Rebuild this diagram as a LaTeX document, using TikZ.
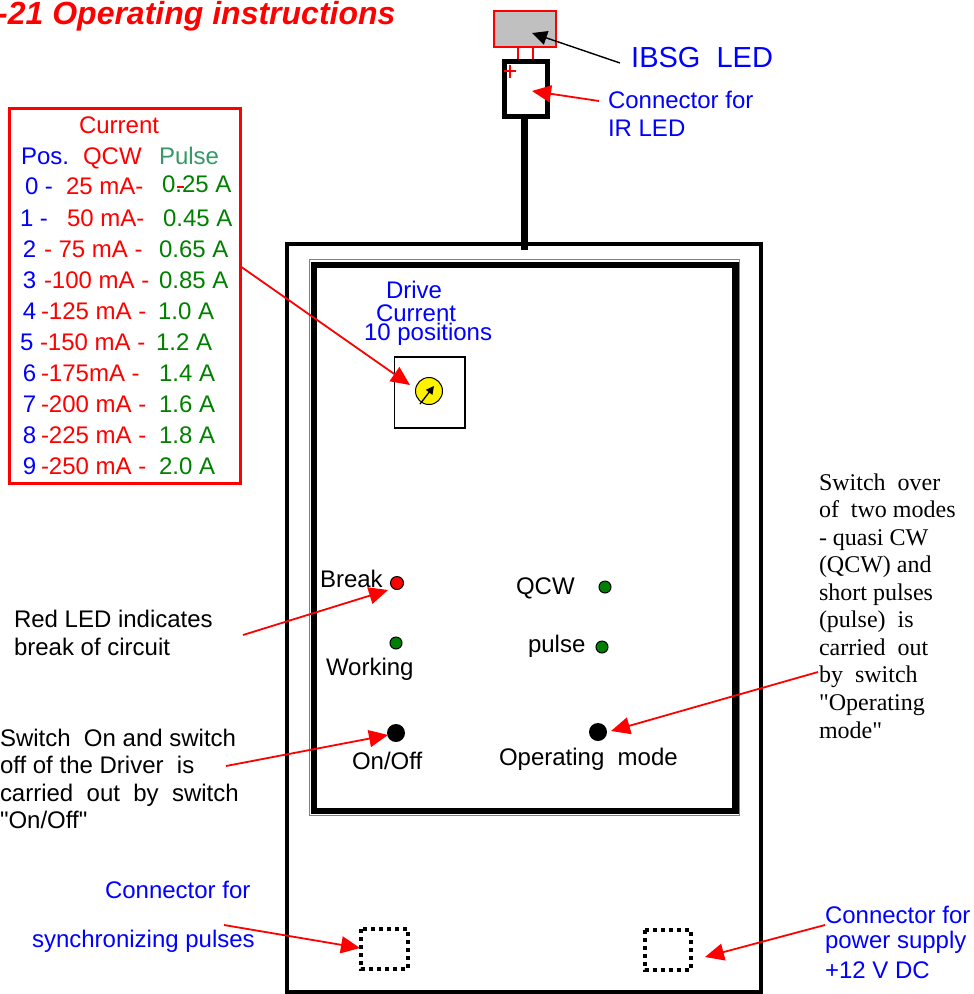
\documentclass[tikz,border=0pt]{standalone}
\usepackage{fontspec}
\setmainfont{Liberation Sans}
\newfontfamily\serifface{Liberation Serif}
\newfontfamily\plainsans{Liberation Sans}
\usetikzlibrary{arrows.meta}
\definecolor{tblue}{RGB}{0,0,255}
\definecolor{tred}{RGB}{255,0,0}
\definecolor{tgreen}{RGB}{0,128,0}
\definecolor{pgreen}{RGB}{51,153,102}
\definecolor{ledgray}{RGB}{192,192,192}
\tikzset{
  x=1pt,y=-1pt,
  lbl/.style={anchor=base west,inner sep=0pt,outer sep=0pt,font=\fontsize{24}{24}\selectfont},
  tb/.style={lbl},
  ser/.style={anchor=base west,inner sep=0pt,outer sep=0pt,font=\serifface\fontsize{24}{24}\selectfont},
  redarrow/.style={draw=tred,line width=1.8pt,-{Triangle[length=19pt,width=17pt,fill=tred]}},
  blackarrow/.style={draw=black,line width=1.4pt,-{Triangle[length=15pt,width=14pt,fill=black]}},
  led/.style={circle,draw=black,line width=1pt,inner sep=0pt,outer sep=0pt},
  dotbox/.style={draw=black,line width=4.5pt,dash pattern=on 4pt off 4pt},
}
\begin{document}
\begin{tikzpicture}
\useasboundingbox (0,0) rectangle (974,994);
% title
\node[anchor=base west,inner sep=0pt,font=\bfseries\itshape\fontsize{32}{32}\selectfont,text=tred] (title) at (-3,24) {-21 Operating instructions};
% body boxes
\draw[black,line width=4pt] (287,244) rectangle (761,992);
\draw[gray,line width=.8pt] (309.5,259.5) rectangle (739,815);
\draw[black,line width=6.5pt] (314,265) rectangle (735.5,811);
% LED and connector
\draw[tred,fill=ledgray,line width=1.2pt] (494,11) rectangle (556,47);
\node[inner sep=0pt,minimum size=0pt] (ledbox) at (525,29) {};
\draw[tred,line width=1.2pt] (518,47) -- (518,60) (533,47) -- (533,63);
\draw[black,line width=5pt] (504,61.5) rectangle (547,116);
\draw[black,line width=7pt] (524,116) -- (524,250);
\draw[tred,line width=1.2pt] (504,71) -- (516,71) (510,65) -- (510,78);
% table
\draw[tred,line width=3pt] (9.5,108.5) rectangle (240,483);
\node[tb,text=tred] (cur) at (79,133) {Current};
\node[tb,text=tblue] (pos) at (21,164) {Pos.};
\node[tb,text=tred] (qcw) at (83,164) {QCW};
\node[tb,text=pgreen] (pls) at (159,164) {Pulse};
\node[tb,text=tblue] (p0) at (25,194) {0 -};
\node[tb,text=tred] (c0) at (66,194) {25 mA-};
\node[tb,text=tgreen] (g0) at (162,192) {0.25 A};
\draw[tred,line width=1.2pt] (177,187) -- (184,187);
\node[tb,text=tblue] (p1) at (20,226) {1 -};
\node[tb,text=tred] (c1) at (67,226) {50 mA-};
\node[tb,text=tgreen] (g1) at (163,226) {0.45 A};
\node[tb,text=tblue] (p2) at (23,257) {2};
\node[tb,text=tred] (c2) at (44,257) {- 75 mA -};
\node[tb,text=tgreen] (g2) at (159,257) {0.65 A};
\node[tb,text=tblue] (p3) at (23,288) {3};
\node[tb,text=tred] (c3) at (44,288) {-100 mA -};
\node[tb,text=tgreen] (g3) at (159,288) {0.85 A};
\node[tb,text=tblue] (p4) at (23,319) {4};
\node[tb,text=tred] (c4) at (41,319) {-125 mA -};
\node[tb,text=tgreen] (g4) at (158,319) {1.0 A};
\node[tb,text=tblue] (p5) at (20,350) {5};
\node[tb,text=tred] (c5) at (40,350) {-150 mA -};
\node[tb,text=tgreen] (g5) at (156,350) {1.2 A};
\node[tb,text=tblue] (p6) at (23,381) {6};
\node[tb,text=tred] (c6) at (41,381) {-175mA -};
\node[tb,text=tgreen] (g6) at (159,381) {1.4 A};
\node[tb,text=tblue] (p7) at (23,412) {7};
\node[tb,text=tred] (c7) at (41,412) {-200 mA -};
\node[tb,text=tgreen] (g7) at (159,412) {1.6 A};
\node[tb,text=tblue] (p8) at (23,443) {8};
\node[tb,text=tred] (c8) at (41,443) {-225 mA -};
\node[tb,text=tgreen] (g8) at (159,443) {1.8 A};
\node[tb,text=tblue] (p9) at (23,474) {9};
\node[tb,text=tred] (c9) at (41,474) {-250 mA -};
\node[tb,text=tgreen] (g9) at (159,474) {2.0 A};
% drive
\node[tb,text=tblue] (dr) at (386,298) {Drive};
\node[tb,text=tblue] (dc) at (376,321) {Current};
\node[tb,text=tblue] (dp) at (364,340) {10 positions};
\draw[black,line width=1.2pt] (394.5,357) rectangle (465,428);
\node[led,fill=yellow,minimum size=27pt] (knob) at (429,391) {};
\coordinate (kt) at (434,386);
\coordinate (ks) at (420,404);
\draw[black,line width=1.3pt,-{Triangle[length=8pt,width=8pt,fill=black]}] (ks) -- (kt);
% labels inside
\node[tb,text=black] (brk) at (320,587) {Break};
\node[led,fill=tred,minimum size=13pt] (ledr) at (397,583) {};
\node[led,fill=tgreen,minimum size=12pt] (ledg) at (396,643) {};
\node[tb,text=black] (wrk) at (326,675) {Working};
\node[tb,text=black] (qq) at (516,594) {QCW};
\node[led,fill=tgreen,minimum size=12pt] (ledq) at (605,587) {};
\node[tb,text=black] (pp) at (528,652) {pulse};
\node[led,fill=tgreen,minimum size=12pt] (ledp) at (602,647) {};
\node[circle,fill=black,minimum size=18pt,inner sep=0pt] (sw1) at (396,733) {};
\node[circle,fill=black,minimum size=18pt,inner sep=0pt] (sw2) at (598,732) {};
\node[tb,text=black] (onoff) at (352,769) {On/Off};
\node[tb,text=black] (opm) at (499,765) {Operating\ \ mode};
\draw[dotbox] (361,929) rectangle (408,969);
\draw[dotbox] (645,930) rectangle (691,970);
% outer labels
\node[anchor=base west,inner sep=0pt,font=\fontsize{29}{29}\selectfont,text=tblue] (ibsg) at (631,67) {IBSG\ \ LED};
\node[lbl,text=tblue] (con1) at (608,108) {Connector for};
\node[lbl,text=tblue] (con2) at (608,136) {IR LED};
\node[tb,text=black] (r1) at (14,627) {Red LED indicates};
\node[tb,text=black] (r2) at (14,655) {break of circuit};
\node[tb,text=black] (s1) at (0,746) {Switch\ \ On and switch};
\node[tb,text=black] (s2) at (0,773) {off of the Driver\ \ is};
\node[tb,text=black] (s3) at (0,801) {carried\ \ out\ \ by\ \ switch};
\node[anchor=base west,inner sep=0pt,outer sep=0pt,font=\plainsans\fontsize{24}{24}\selectfont,text=black] (s4) at (0,828) {"On/Off"};
\node[tb,text=tblue] (syn1) at (105,898) {Connector for};
\node[tb,text=tblue] (syn2) at (32,947) {synchronizing pulses};
\node[tb,text=tblue] (pw1) at (825,923) {Connector for};
\node[tb,text=tblue] (pw2) at (825,948) {power supply};
\node[tb,text=tblue] (pw3) at (825,978) {+12 V DC};
\node[ser] (t1) at (819,490) {Switch\ \ over};
\node[ser] (t2) at (819,517) {of\ \ two modes};
\node[ser] (t3) at (819,545) {- quasi CW};
\node[ser] (t4) at (819,572) {(QCW) and};
\node[ser] (t5) at (819,600) {short pulses};
\node[ser] (t6) at (819,627) {(pulse)\ \ is};
\node[ser] (t7) at (819,655) {carried\ \ out};
\node[ser] (t8) at (819,682) {by\ \ switch};
\node[ser] (t9) at (819,710) {"Operating};
\node[ser] (t10) at (819,738) {mode"};
% arrows
\coordinate (a1s) at (620,63); \coordinate (a1e) at (532,33);
\draw[blackarrow] (a1s) -- (a1e);
\coordinate (a2s) at (599,101); \coordinate (a2e) at (532,91);
\draw[redarrow] (a2s) -- (a2e);
\coordinate (a3s) at (240,266); \coordinate (a3e) at (410,385);
\draw[redarrow] (a3s) -- (a3e);
\coordinate (a4s) at (243,635); \coordinate (a4e) at (388,590);
\draw[redarrow] (a4s) -- (a4e);
\coordinate (a5s) at (226,766); \coordinate (a5e) at (388,735);
\draw[redarrow] (a5s) -- (a5e);
\coordinate (a6s) at (818,672); \coordinate (a6e) at (611,731);
\draw[redarrow] (a6s) -- (a6e);
\coordinate (a7s) at (224,925); \coordinate (a7e) at (360,948);
\draw[redarrow] (a7s) -- (a7e);
\coordinate (a8s) at (825,925); \coordinate (a8e) at (705,957);
\draw[redarrow] (a8s) -- (a8e);
\end{tikzpicture}
\end{document}
